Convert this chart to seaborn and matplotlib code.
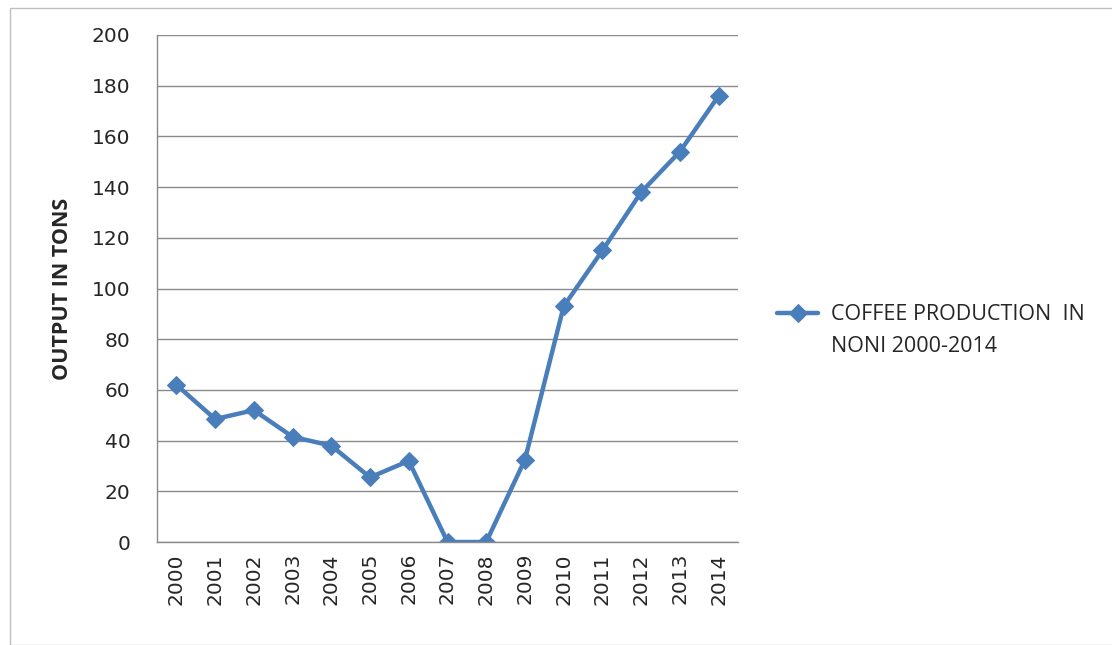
import pandas as pd
import matplotlib.pyplot as plt
import seaborn as sns
from matplotlib.patches import Rectangle

# Coffee output
years = ['2000', '2001', '2002', '2003', '2004', '2005', '2006', '2007',
         '2008', '2009', '2010', '2011', '2012', '2013', '2014']
output_tons = [62, 48.5, 52, 41.5, 38, 25.5, 32, 0, 0, 32.5, 93, 115, 138, 154, 176]
y_ticks = [0, 20, 40, 60, 80, 100, 120, 140, 160, 180, 200]
series_line1 = 'COFFEE PRODUCTION  IN'
series_line2 = 'NONI 2000-2014'

df = pd.DataFrame({'Year': years, 'Output': output_tons})

sns.set_style('white')
plt.rcParams['font.family'] = ['Open Sans', 'DejaVu Sans']

fig = plt.figure(figsize=(11.12, 6.45), dpi=100)
ax = fig.add_axes([157 / 1112, 1 - 542 / 645, (738 - 157) / 1112, (542 - 35) / 645])

sns.lineplot(data=df, x='Year', y='Output', ax=ax, color='#4A7EBB',
             linewidth=3.2, marker='D', markersize=9.5, markeredgecolor='#4A7EBB',
             label=series_line1, sort=False)

ax.set_xlim(-0.5, len(years) - 0.5)
ax.set_ylim(0, 200)
ax.set_yticks(y_ticks)
ax.set_yticklabels([str(v) for v in y_ticks], fontsize=14.5, family='DejaVu Sans')
ax.set_xticks(range(len(years)))
ax.set_xticklabels(years, rotation=90, fontsize=14.5, family='DejaVu Sans')
ax.yaxis.grid(True, color='#8a8a8a', linewidth=1)
ax.set_axisbelow(True)
ax.tick_params(axis='y', length=5, color='#8a8a8a', pad=14)
ax.tick_params(axis='x', length=0, pad=8)

for side in ['top', 'right']:
    ax.spines[side].set_visible(False)
for side in ['left', 'bottom']:
    ax.spines[side].set_color('#8a8a8a')
    ax.spines[side].set_linewidth(1)

ax.set_xlabel('')
ax.set_ylabel('OUTPUT IN TONS', fontsize=15.5, fontweight='bold', labelpad=14)

# legend: marker sits on the first text line, second line below it
ax.legend(loc='center left', bbox_to_anchor=(1.053, (542 - 315) / 507), frameon=False,
          fontsize=15.5, handlelength=1.9, handletextpad=0.6, borderaxespad=0)
fig.text(831 / 1112, 1 - 347 / 645, series_line2, fontsize=15.5, va='center', ha='left')

# light frame around the whole chart
fig.patches.append(Rectangle((10 / 1112, 0), 1.2, 1 - 8 / 645, transform=fig.transFigure,
                             fill=False, edgecolor='#bfbfbf', linewidth=1))

plt.savefig('out.png', dpi=100)
